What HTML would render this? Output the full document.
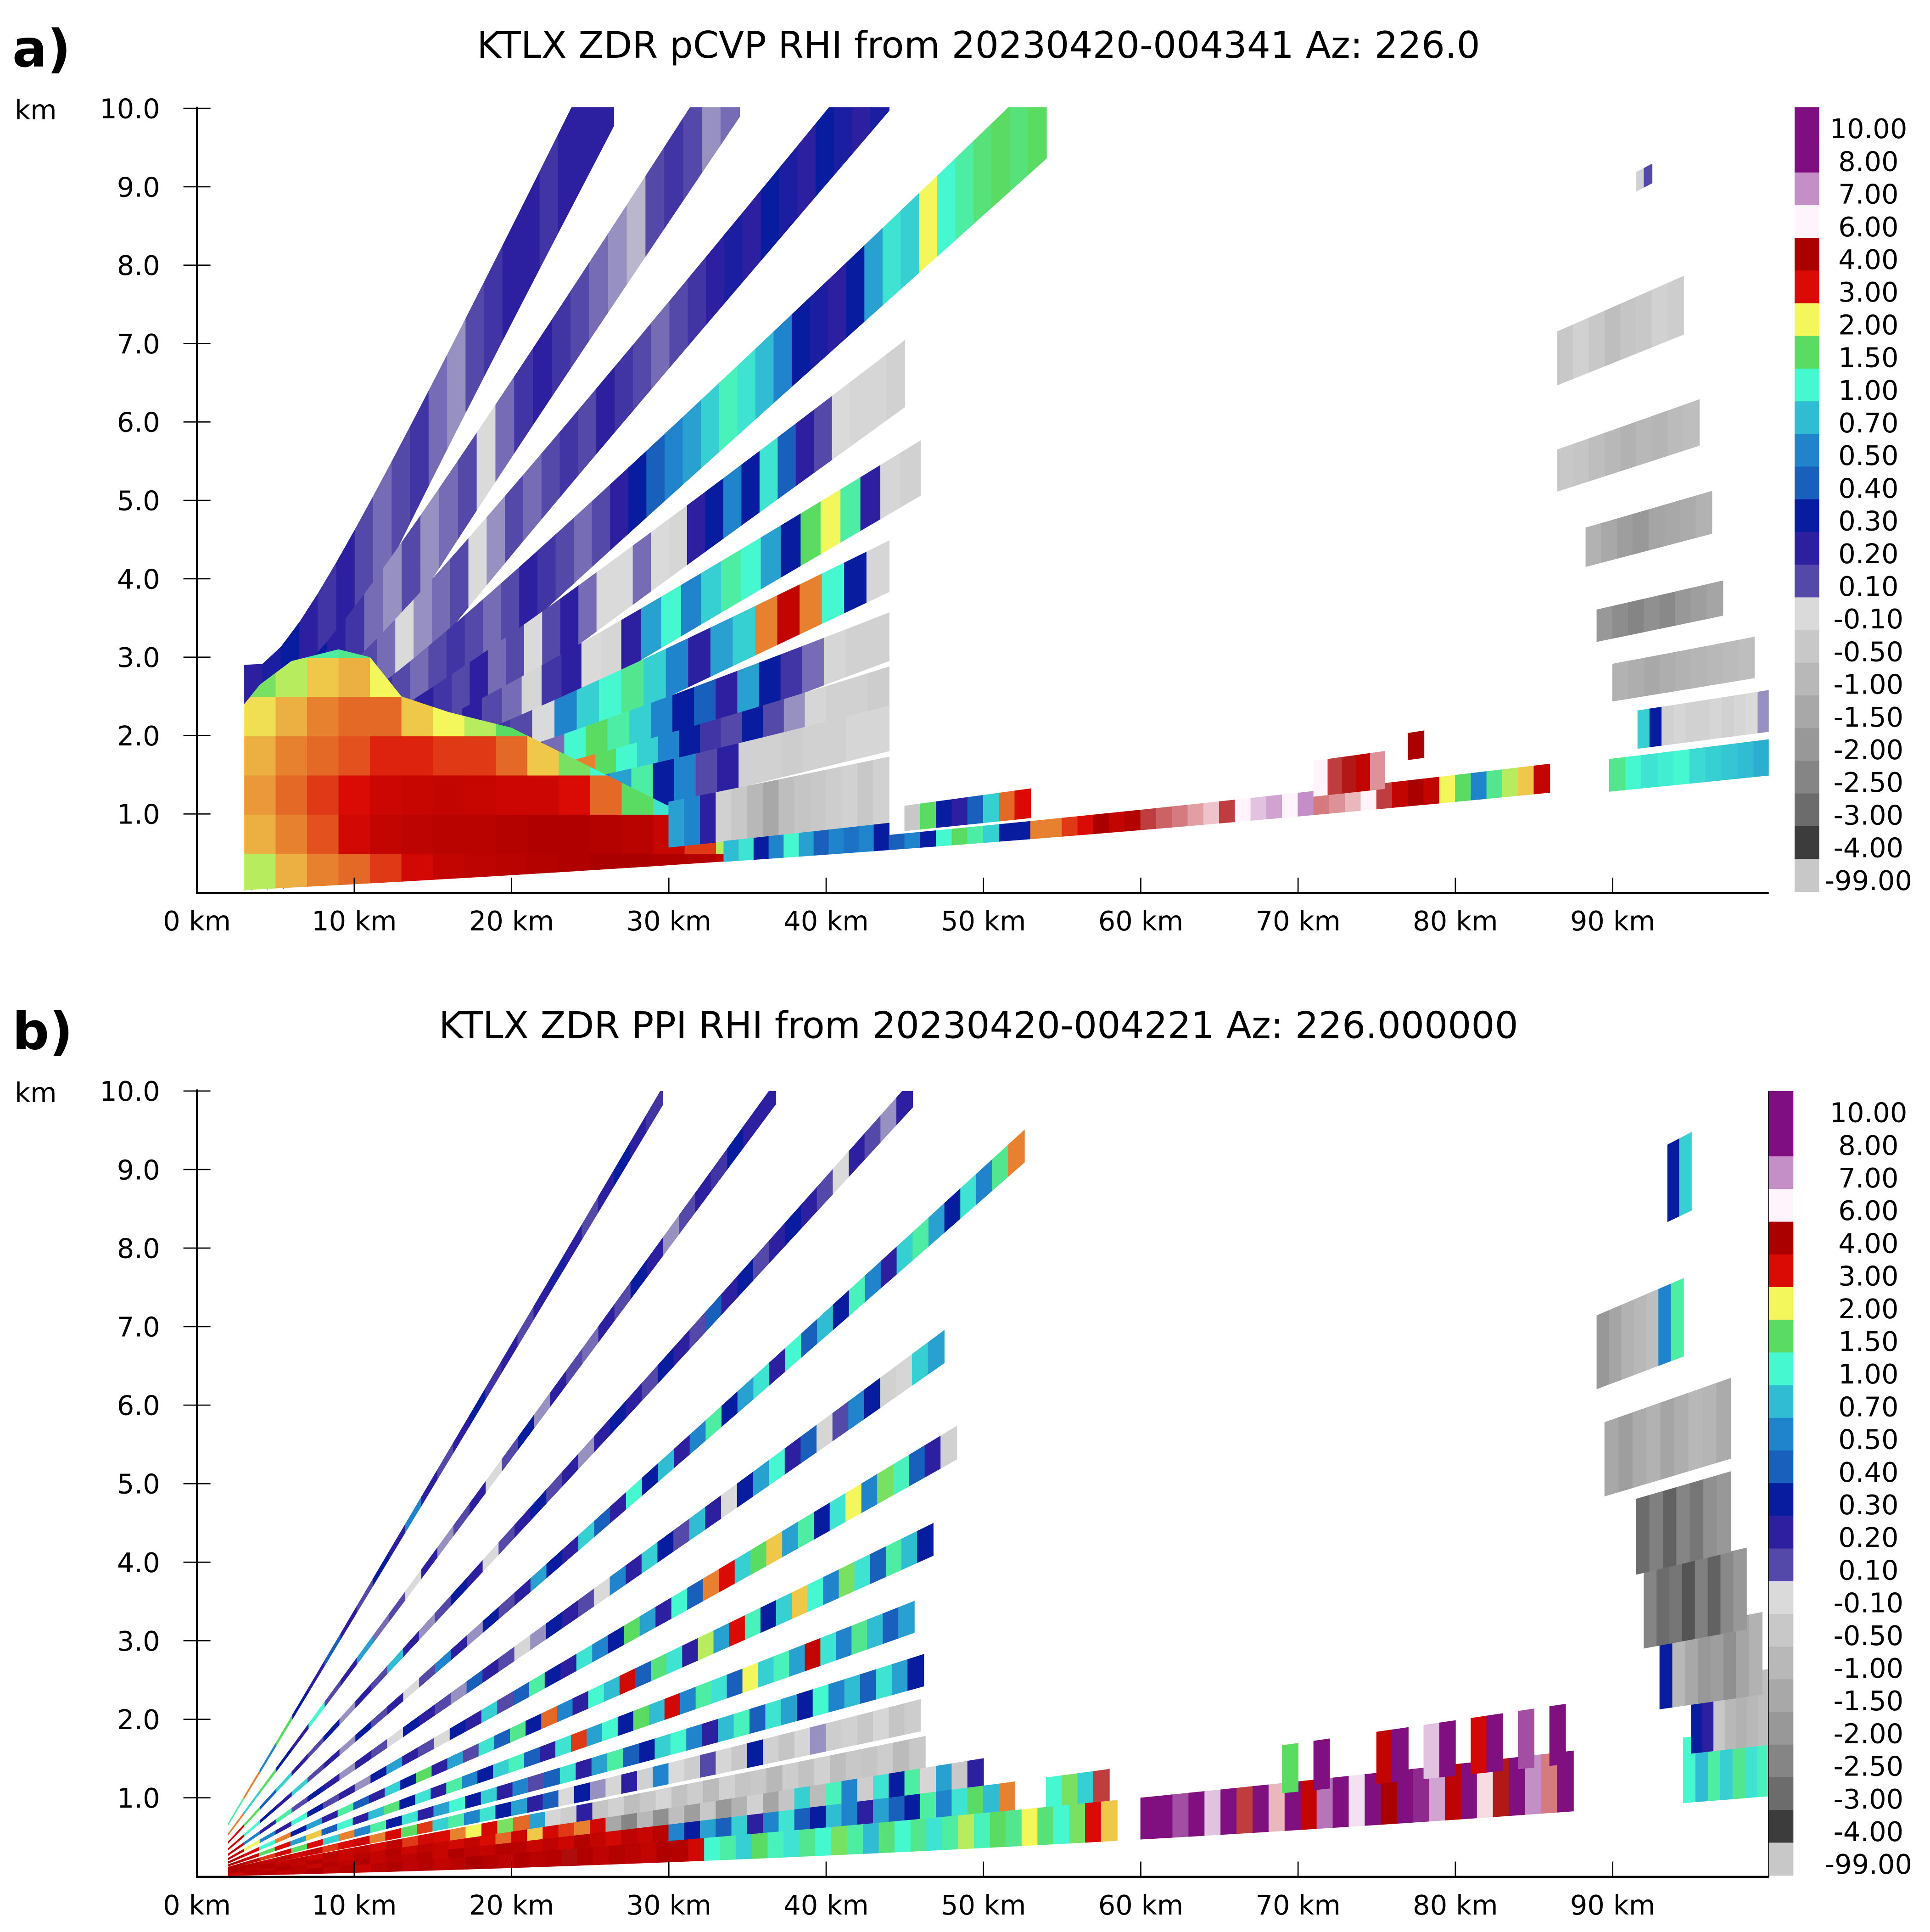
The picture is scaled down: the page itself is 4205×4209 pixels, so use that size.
<!DOCTYPE html>
<html><head><meta charset="utf-8"><title>KTLX ZDR RHI</title>
<style>
html,body{margin:0;padding:0;background:#fff;}
svg{display:block;font-family:"DejaVu Sans","Liberation Sans",sans-serif;}
.t{font-size:22px;fill:#000;}
.ttl{font-size:30px;fill:#000;}
.pl{font-size:42px;font-weight:bold;fill:#000;}
</style></head>
<body>
<svg id="chart" xmlns="http://www.w3.org/2000/svg" viewBox="0 0 1568 1569" width="4205" height="4209" preserveAspectRatio="none">
<defs>
<clipPath id="clipA"><rect x="160" y="87" width="1277" height="638"/></clipPath>
<clipPath id="clipB"><rect x="160" y="886" width="1277" height="638"/></clipPath>
<clipPath id="nearClip"><polygon id="nearPoly" points=""/></clipPath>
</defs>
<rect x="0" y="0" width="1568" height="1569" fill="#fff"/>
<text class="pl" x="10" y="54">a)</text>
<text class="ttl" x="795" y="47" text-anchor="middle">KTLX ZDR pCVP RHI from 20230420-004341 Az: 226.0</text>
<text class="t" x="29" y="97" text-anchor="middle">km</text>
<text class="pl" x="10" y="852">b)</text>
<text class="ttl" x="795" y="843" text-anchor="middle">KTLX ZDR PPI RHI from 20230420-004221 Az: 226.000000</text>
<text class="t" x="29" y="895" text-anchor="middle">km</text>
<g id="plotA" clip-path="url(#clipA)">
  <g id="beamsAUpper"></g>
  <g id="nearA" clip-path="url(#nearClip)"></g>
  <g id="beamsA"></g>
</g>
<g id="plotB" clip-path="url(#clipB)"></g>
<g id="axes"></g>
<g id="cbars"></g>
</svg>
<script>
// ---------- data ----------
const xTicks = [0,10,20,30,40,50,60,70,80,90];
const yTicks = [1,2,3,4,5,6,7,8,9,10];
const cbLabels = ["10.00","8.00","7.00","6.00","4.00","3.00","2.00","1.50","1.00","0.70","0.50","0.40","0.30","0.20","0.10","-0.10","-0.50","-1.00","-1.50","-2.00","-2.50","-3.00","-4.00","-99.00"];
const cbColors = ["#7f0f80","#7f0f80","#c48fc6","#fff4fb","#ab0000","#da0a04","#f4f75c","#5adc62","#45f8d0","#30bcd3","#2084cc","#1860bc","#081ca0","#2d20a0","#5448a8","#dadada","#c8c8c8","#b8b8b8","#a8a8a8","#989898","#858585","#6c6c6c","#3c3c3c","#c8c8c8"];
const anchorV = [-4,-3,-2.5,-2,-1.5,-1,-0.5,-0.1,0.1,0.2,0.3,0.4,0.5,0.7,1.0,1.5,2.0,3.0,4.0,6.0,7.0,8.0];
const anchorC = ["#3c3c3c","#6c6c6c","#858585","#989898","#a8a8a8","#b8b8b8","#c8c8c8","#dadada","#5448a8","#2d20a0","#081ca0","#1860bc","#2084cc","#30bcd3","#45f8d0","#5adc62","#f4f75c","#da0a04","#ab0000","#fff4fb","#c48fc6","#800f80"];

// panel a near-field grid (columns start at 3 km, 2 km wide; rows 0.5 km tall from ground)
const nearR0 = 3, nearDR = 2, nearDH = 0.5;
const nearGrid = [
 [1.8,2.3,2.4,2.3,2.1,1.6,0.8],
 [2.3,2.5,2.6,2.5,2.3,1.8,0.9,0.5],
 [2.5,2.7,2.8,2.6,2.5,2.2,1.2,0.6],
 [2.6,3.2,3.0,2.7,2.6,2.3,1.3,0.6],
 [2.8,3.5,3.3,2.9,2.6,2.0,0.9,0.4],
 [3.2,3.6,3.4,2.9,2.2,1.2,0.5,0.3],
 [3.5,3.7,3.5,2.8,2.0,1.1,0.4,0.3],
 [3.6,3.7,3.4,2.8,1.8,0.9,0.3,0.2],
 [3.7,3.8,3.3,2.6,1.5,0.7,0.3,0.2],
 [3.8,3.9,3.3,2.2,1.2,0.6,0.2],
 [3.9,3.9,3.0,1.6,0.8,0.3,0.2],
 [4.0,3.8,2.6,1.0,0.5,0.3,0.2],
 [4.0,3.7,1.5,0.7,0.3,0.2],
 [3.9,3.4,0.9,0.5,0.2,0.1],
 [3.8,2.8,0.6,0.3,0.2],
 [3.5,1.8,0.5,0.3,0.2],
 [1.0,0.4,0.3,0.2]
];
const nearMaskR = [3,3,4,6,9,11,13,16,20,24,28,32,35];
const nearMaskH = [0.03,2.4,2.65,2.95,3.1,3.0,2.5,2.3,2.1,1.7,1.3,0.9,0.45];

// panel a beams
const aB1 = [0.2,0.25,0.3,0.2,0.15,0.2,0.1,0.05,0.1,0.15,0.05,0,0.1,0.15,0.2,0.2,0.15,0.2,0.2,0.2];
const aB2 = [0.3,0.35,0.25,0.3,0.2,0.15,0.05,0,0.1,0.0,0.05,0.1,-0.1,0.05,0.15,0.2,0.15,0.1,0.05,0.0,-0.05,0.1,0.15,0.1,0.0,0.05];
const aB3 = [0.2,0.25,0.2,0.15,0.2,0.1,0.05,-0.1,0.0,0.05,0.1,-0.1,0.0,0.1,0.05,0.1,0.15,0.1,0.2,0.15,0.1,0.05,0.1,0.15,0.2,0.25,0.2,0.3,0.25,0.2,0.3,0.25,0.2,0.25];
const aB4 = [0.2,0.25,0.2,0.3,0.2,0.15,0.1,0.05,0.1,0.15,0.1,0.05,0.1,0.2,0.15,0.1,0.05,0.1,0.2,0.3,0.4,0.5,0.6,0.8,1.1,0.9,0.7,0.5,0.3,0.25,0.2,0.3,0.6,0.9,0.8,2.0,1.0,1.2,1.4,1.5,1.4,1.5];
const aB5 = [0.25,0.2,0.3,0.2,0.25,0.15,0.2,0.15,0.1,0.2,0.05,0.1,-0.1,0.1,0.2,0.05,-0.1,-0.1,0.05,-0.1,-0.2,0.2,0.3,0.5,0.3,0.9,0.4,0.2,0.1,-0.1,-0.2,-0.2,-0.3];
const aB6 = [0.25,0.2,0.3,0.2,0.25,0.15,0.1,0.2,0.1,0.05,-0.2,0.15,0.2,-0.1,-0.2,0.2,0.6,1.0,0.5,0.8,1.2,1.0,0.6,0.3,1.5,2.0,1.2,0.2,-0.2,-0.3];
const aB7 = [0.3,0.2,0.25,0.2,0.15,0.1,0.15,0.1,-0.1,0.5,0.8,1.0,1.3,0.8,0.5,0.2,0.6,0.8,2.5,3.5,2.5,1.0,0.3,-0.2];
const aB8 = [0.3,0.2,0.25,0.2,0.15,0.15,0.2,0.1,0.05,1.0,1.5,1.2,0.8,0.5,0.3,0.4,0.2,0.6,0.3,0.15,0.05,-0.2,-0.3,-0.3];
const aB9 = [0.3,0.25,0.2,0.2,0.1,0.2,0.15,0.1,0.05,2.5,1.5,1.0,0.8,0.5,0.3,0.15,0.1,0.3,0.1,0.0,-0.2,-0.3,-0.3,-0.4];
const aB10 = [0.3,0.25,0.2,0.15,0.15,0.1,0.05,0.3,0.5,0.6,1.2,0.3,0.5,0.1,0.2,-0.3,-0.3,-0.4,-0.3,-0.3,-0.2,-0.2];
const aL1b = [0.6,0.5,0.2,-0.3,-0.5,-1.0,-1.5,-0.8,-0.6,-0.5,-0.4,-0.3,-0.5,-0.3];
const aL1a = [0.7,0.9,0.3,0.5,1.0,0.6,0.4,0.5,0.45,0.5,0.3];
const aL2 = [0.4,0.5,0.3,1.0,1.5,1.2,0.8,0.3,0.3,2.5,2.5,2.8,3.0,4.0,3.5,3.8,4.5,4.8,5.0,5.3,5.6,4.5,6.0,6.5,6.8,6.0,7.0,5.0,5.2,5.5,6.0,4.5,3.5,4.0,3.5,2.0,1.5,0.5,1.3,1.8,2.2,3.5];
const aL3 = [-0.5,1.5,0.3,0.2,0.4,0.8,2.6,3.0];
const aS1 = [6.0,4.5,4.2,3.5,5.2];
const aS2 = [4.0];
const aF1 = [-0.5,-0.3,-0.5,-0.8,-0.6,-0.5,-0.3,-0.4];
const aF0 = [-0.3,0.1];
const aF2 = [-0.5,-0.6,-0.8,-1.0,-1.2,-1.0,-1.1,-0.9,-0.8];
const aF3 = [-1.2,-1.5,-1.8,-2.0,-1.6,-1.5,-1.4,-1.2];
const aF4 = [-2.0,-2.3,-2.5,-2.2,-2.4,-2.0,-1.8,-1.6];
const aF5 = [-1.2,-1.3,-1.5,-1.3,-1.2,-1.1,-1.0,-0.9,-0.8];
const aF6 = [0.8,0.3,-0.3,-0.2,-0.3,-0.3,-0.2,-0.3,-0.2,-0.1,0.0];
const aF7 = [1.3,1.0,0.9,0.95,1.0,0.85,0.8,0.75,0.7,0.65];
const aUpperCount = 10;
const aPadK = 5;
const aElevLo = [22.0,16.8,13.1,9.9,7.9,6.3,5.0,3.85,2.9,2.35,1.0,0.56,0.56,0.85,0.75,1.0,4.0,5.3,3.1,2.4,1.76,1.25,0.84,0.52];
const aElevHi = [24.2,18.2,14.1,10.9,8.7,6.9,5.55,4.35,3.45,2.8,2.1,1.0,0.8,1.25,1.11,1.25,4.45,5.45,3.45,2.72,2.02,1.55,1.14,0.78];
const aRangeStart = [3,3.5,4.5,5.5,7,8,10,11,12,14,30,33.5,44,45,71,77,86.5,91.5,86.5,88.3,89,90,91.6,89.8];
const aRangeEnd = [26.5,34.5,44,54,45,46,44,44,44,44,44,44,86,53,75.5,78,94.5,92.5,95.5,96.3,97,99,100,100];
const aValues = [aB1,aB2,aB3,aB4,aB5,aB6,aB7,aB8,aB9,aB10,aL1b,aL1a,aL2,aL3,aS1,aS2,aF1,aF0,aF2,aF3,aF4,aF5,aF6,aF7];

// panel b beams (PPI sweeps)
const b195 = [1.2,2.5,0.5,1.5,0.3,0.2,0.4,0.2,0.1,0.3,0.2,0.5,0.2,0.1,0.2,0.3,0.15,0.2,0.1,0.2,0.25,0.2,0.1,0.2,0.3,0.2,0.15];
const b156 = [2.5,0.8,1.5,0.3,0.2,1.0,0.1,0.2,0.6,0.05,0.1,-0.1,0.2,0.0,0.1,0.2,-0.1,0.1,0.3,0.0,0.2,0.1,0.05,0.2,0.1,0.3,0.2,0.0,0.1,0.2,0.15,0.3,0.2,0.2];
const b125 = [3.0,1.5,0.4,0.8,0.2,0.1,0.3,0.0,0.2,0.1,0.7,0.2,0.0,0.1,0.3,0.2,-0.1,0.1,0.2,0.3,0.1,0.2,0.0,0.2,0.3,0.2,0.1,0.3,0.2,0.1,0.4,0.2,0.3,0.1,0.2,0.3,0.2,0.1,-0.1,0.2,0.1,0.0,0.2];
const b100 = [3.2,1.0,0.3,0.2,0.8,0.1,0.2,0.0,0.3,0.1,0.2,-0.1,0.1,0.5,0.2,0.0,0.3,0.1,0.2,0.6,0.3,0.2,0.8,0.4,0.2,1.0,0.3,0.7,0.2,0.5,1.2,0.3,0.6,0.9,0.2,1.0,0.4,0.7,0.3,1.1,0.5,0.2,0.8,1.2,0.6,0.3,0.9,0.5,1.3,2.5];
const b080 = [3.5,0.5,0.2,1.2,0.1,0.3,0.2,0.0,0.2,0.1,-0.1,0.3,0.2,0.1,0.0,0.4,0.2,0.1,-0.2,0.0,0.3,0.2,0.1,-0.1,0.5,0.2,0.8,0.3,0.1,0.7,0.2,-0.1,0.3,0.6,1.0,0.2,0.4,-0.2,0.1,0.5,0.3,-0.3,-0.2,0.8,0.6];
const b064 = [3.5,2.0,0.5,0.2,1.0,0.3,0.1,0.2,0.0,0.3,0.6,0.2,0.1,-0.1,0.3,0.2,0.8,0.1,0.4,1.2,0.3,0.2,0.9,0.5,0.3,1.5,0.6,0.2,1.0,0.4,2.5,3.0,0.8,1.5,2.2,0.6,1.2,0.3,0.9,2.0,0.5,1.6,1.1,0.4,0.2,-0.3];
const b051 = [3.8,3.0,1.0,2.5,0.3,0.6,0.2,1.2,0.4,0.2,0.8,0.3,1.5,0.2,0.6,0.1,0.9,0.4,1.3,0.3,2.6,0.5,0.2,1.0,0.7,3.2,0.4,1.4,0.9,0.2,1.8,0.6,3.0,1.1,0.3,0.8,2.2,1.0,0.5,1.6,0.9,0.4,1.2,0.7,0.3];
const b040 = [3.8,3.5,1.5,3.0,0.6,2.2,0.4,1.0,0.2,0.7,1.4,0.3,0.9,0.2,1.2,0.5,0.3,0.8,1.1,0.4,0.2,0.9,2.8,0.6,1.0,0.3,1.5,0.7,3.2,0.5,1.2,0.9,0.4,2.0,0.8,1.1,0.6,3.5,0.9,0.5,1.3,0.7,0.4,0.6];
const b031 = [3.9,3.6,2.8,3.3,1.5,3.0,0.8,2.5,0.5,1.2,0.3,0.9,0.2,0.6,1.0,0.3,0.8,0.2,0.5,0.1,0.4,0.9,0.2,0.6,1.2,0.4,0.3,0.8,1.0,0.5,0.2,0.7,1.1,0.4,0.9,0.6,0.3,1.0,0.5,0.7,0.4,0.9,0.6,0.3];
const b024 = [3.9,3.8,3.5,3.6,3.2,3.4,2.8,3.0,3.3,2.5,3.1,1.5,2.8,0.8,1.2,0.5,0.9,0.3,0.6,0.2,0.4,-0.1,0.3,0.0,-0.2,0.2,-0.3,0.5,-0.1,-0.4,0.1,-0.2,-0.5,0.3,-0.3,-0.6,-0.2,0.0,-0.4,-0.3,-0.5,-0.2,-0.6,-0.4];
const b018 = [3.9,3.7,3.8,3.5,3.6,3.3,3.7,3.4,3.5,3.1,3.6,2.8,3.2,3.0,2.5,2.0,3.1,1.6,2.6,0.6,-0.2,-0.4,0.2,-0.6,-0.3,-0.8,-0.5,-0.2,-0.7,-0.4,-0.9,-0.3,-0.6,-0.5,-1.0,-0.4,-0.7,-0.3,-0.8,-0.5,-0.6,-0.4,-0.9,-0.5];
const b013 = [3.9,3.6,3.8,3.7,3.5,3.8,3.6,3.4,3.7,3.5,3.8,3.3,3.6,3.4,3.2,3.5,3.0,2.6,3.3,2.2,3.1,2.8,2.5,3.2,-1.5,-2.5,-1.0,-2.2,-0.8,-1.8,-0.5,-2.0,-1.2,-0.3,-1.6,-0.6,0.8,-0.9,1.1,0.5,-0.4,0.9,0.3,1.2,-0.2,0.6,-0.5,0.2];
const b009 = [3.6,3.8,3.5,3.9,3.7,3.4,3.8,3.6,3.9,3.5,3.7,3.6,3.8,3.4,3.9,3.6,3.5,3.8,3.7,3.4,3.6,3.3,3.8,3.5,3.2,3.6,3.4,3.7,0.5,0.3,0.6,0.4,0.8,0.2,0.5,0.9,0.4,0.3,0.7,0.5,0.2,0.6,0.4,0.3,1.2,0.5,0.9,1.5,0.7,2.5,null,null,1.0,1.6,0.8,4.5];
const b005 = [3.2,3.6,3.8,3.5,3.7,3.9,3.6,3.8,3.4,3.7,3.9,3.6,3.8,3.5,3.7,4.0,3.8,3.6,3.9,3.7,3.8,4.1,3.9,3.6,3.8,3.7,3.5,3.9,3.8,3.2,1.0,1.2,0.8,1.5,1.1,0.9,1.3,1.0,1.6,1.2,0.7,1.4,1.0,1.3,0.9,1.2,1.8,1.1,1.5,1.3,2.0,1.4,1.0,1.6,3.0,2.2];
const bFar005 = [8.5,9,7.5,8.8,6.5,9.2,4.5,8.0,5.5,8.6,3.5,7.2,9.0,6.2,8.3,4.0,9.1,7.8,6.8,3.6,8.9,5.8,4.2,9.3,7.0,5.0,8.0];
const bFar009 = [null,null,null,1.5,null,9,null,null,null,3.5,8.8,null,6.5,9.0,null,3.2,8.5,null,7.5,null,9.2];
const bEdge005 = [1.0,0.7,1.2,0.8,1.3,0.9,1.1];
const bEdge009 = [0.3,0.2,-0.5,-1.0,-1.2,-1.0,-0.8];
const bEdge013 = [0.3,-1.0,-1.5,-2.0,-1.8,-2.2,-1.6,-1.2];
const bEdge018 = [-2.5,-3.0,-2.8,-3.5,-2.6,-3.2,-2.4,-2.0];
const bEdge024 = [-3.0,-2.6,-3.2,-2.5,-2.8,-2.2,-2.0];
const bEdge031 = [-1.5,-1.8,-1.4,-1.2,-1.6,-1.3,-1.0,-1.1,-1.4];
const bEdge040 = [-2.0,-1.6,-1.2,-1.0,-0.8,0.5,1.2];
const bEdge051 = [0.3,0.8];
const bElev = [19.5,15.6,12.5,10.0,8.0,6.4,5.1,4.0,3.1,2.4,1.8,1.3,0.9,0.5,0.5,0.9,0.5,0.9,1.3,1.8,2.4,3.1,4.0,5.1];
const bWidth = [0.45,0.45,0.45,0.45,0.5,0.5,0.5,0.5,0.5,0.5,0.5,0.5,0.5,0.5,0.5,0.5,0.5,0.55,0.6,0.6,0.6,0.6,0.6,0.6];
const bRangeStart = [2,2,2,2,2,2,2,2,2,2,2,2,2,2,60,66,94.5,95,93,92,91.5,89.5,89,93.5];
const bRangeEnd = [29.6,36.8,45.5,52.6,47.5,48.3,46.8,45.6,46.2,46,46.3,50,58,58.5,87.5,87,100,100,99.5,98.5,97.5,97.5,94.5,95];
const bValues = [b195,b156,b125,b100,b080,b064,b051,b040,b031,b024,b018,b013,b009,b005,bFar005,bFar009,bEdge005,bEdge009,bEdge013,bEdge018,bEdge024,bEdge031,bEdge040,bEdge051];

// ---------- rendering ----------
const NS = 'http://www.w3.org/2000/svg';
const panelA = {ox:160, kx:12.78, oy:724.7, ky:63.67};
const panelB = {ox:160, kx:12.78, oy:1523.8, ky:63.78};
const KE = 16990;
function hgt(r, e){ return r*Math.sin(e*Math.PI/180) + r*r/KE; }
function X(p, r){ return p.ox + r*p.kx; }
function Y(p, h){ return p.oy - h*p.ky; }
function hex2rgb(h){ return [parseInt(h.substr(1,2),16),parseInt(h.substr(3,2),16),parseInt(h.substr(5,2),16)]; }
function colorOf(v){
  if (v <= anchorV[0]) return anchorC[0];
  if (v >= anchorV[anchorV.length-1]) return anchorC[anchorC.length-1];
  for (let i=0;i<anchorV.length-1;i++){
    if (v>=anchorV[i] && v<=anchorV[i+1]){
      const t=(v-anchorV[i])/(anchorV[i+1]-anchorV[i]);
      const a=hex2rgb(anchorC[i]), b=hex2rgb(anchorC[i+1]);
      return 'rgb('+Math.round(a[0]+(b[0]-a[0])*t)+','+Math.round(a[1]+(b[1]-a[1])*t)+','+Math.round(a[2]+(b[2]-a[2])*t)+')';
    }
  }
  return '#fff';
}
function el(tag, parent){ const e=document.createElementNS(NS, tag); parent.appendChild(e); return e; }

function drawBeam(g, p, eLo, eHi, r0, r1, vals, nm, padK){
  const dr=(r1-r0)/vals.length;
  const lo=function(r){
    if (!padK) return hgt(r,eLo);
    let h=hgt(r,eLo)-padK/r; const m=hgt(r,0.56); return h<m?m:h;
  };
  const hi=function(r){ return hgt(r,eHi)+(padK?padK/r:0); };
  for (let i=0;i<vals.length;i++){
    if (vals[i]===null) continue;
    const ra=r0+i*dr, rb=ra+dr;
    const pts=[[X(p,ra),Y(p,lo(ra))],[X(p,ra),Y(p,hi(ra))],[X(p,rb),Y(p,hi(rb))],[X(p,rb),Y(p,lo(rb))]];
    const poly=el('polygon', g);
    poly.setAttribute('points', pts.map(q=>q[0].toFixed(2)+','+q[1].toFixed(2)).join(' '));
    const c=colorOf(vals[i]);
    poly.setAttribute('fill', c);
    poly.setAttribute('stroke', c);
    poly.setAttribute('stroke-width', '0.6');
    
    
  }
}

// panel a beams
(function(){
  const gu=document.getElementById('beamsAUpper');
  const gl=document.getElementById('beamsA');
  for (let i=0;i<aValues.length;i++){
    const upper = i < aUpperCount;
    const sub=el('g', upper?gu:gl);
    
    
    drawBeam(sub, panelA, aElevLo[i], aElevHi[i], aRangeStart[i], aRangeEnd[i], aValues[i], 'panel-a-beam', upper?aPadK:0);
  }
})();

// near-field grid
(function(){
  const pts=[];
  for (let i=0;i<nearMaskR.length;i++) pts.push(X(panelA,nearMaskR[i]).toFixed(2)+','+Y(panelA,nearMaskH[i]).toFixed(2));
  for (let r=35;r>=3;r-=0.5) pts.push(X(panelA,r).toFixed(2)+','+Y(panelA,hgt(r,0.56)).toFixed(2));
  document.getElementById('nearPoly').setAttribute('points', pts.join(' '));
  const g=document.getElementById('nearA');
  for (let c=0;c<nearGrid.length;c++){
    for (let k=0;k<nearGrid[c].length;k++){
      const r=nearR0+c*nearDR;
      const rc=el('rect', g);
      rc.setAttribute('x', X(panelA,r).toFixed(2));
      rc.setAttribute('y', Y(panelA,(k+1)*nearDH).toFixed(2));
      rc.setAttribute('width', (nearDR*panelA.kx+0.6).toFixed(2));
      rc.setAttribute('height', (nearDH*panelA.ky+0.6).toFixed(2));
      rc.setAttribute('fill', colorOf(nearGrid[c][k]));
      
      
    }
  }
})();

// panel b beams
(function(){
  const g=document.getElementById('plotB');
  for (let i=0;i<bValues.length;i++){
    const sub=el('g', g);
    
    
    drawBeam(sub, panelB, bElev[i]-bWidth[i]/2, bElev[i]+bWidth[i]/2, bRangeStart[i], bRangeEnd[i], bValues[i], 'panel-b-sweep', 0);
  }
})();

// axes
(function(){
  const g=document.getElementById('axes');
  [[panelA,'a'],[panelB,'b']].forEach(function(pp){
    const p=pp[0], n=pp[1];
    const top=Y(p,10.02);
    const l=el('line', g);
    l.setAttribute('x1',160); l.setAttribute('x2',160); l.setAttribute('y1',top); l.setAttribute('y2',p.oy+1);
    l.setAttribute('stroke','#000'); l.setAttribute('stroke-width','1.6');
    
    
    const b=el('line', g);
    b.setAttribute('x1',159.2); b.setAttribute('x2',1437); b.setAttribute('y1',p.oy+0.5); b.setAttribute('y2',p.oy+0.5);
    b.setAttribute('stroke','#000'); b.setAttribute('stroke-width','1.8');
    
    
    xTicks.forEach(function(t){
      const tk=el('line', g);
      tk.setAttribute('x1',X(p,t)); tk.setAttribute('x2',X(p,t)); tk.setAttribute('y1',p.oy-12); tk.setAttribute('y2',p.oy);
      tk.setAttribute('stroke','#000'); tk.setAttribute('stroke-width','1');
      
      
      const tx=el('text', g);
      tx.setAttribute('x',X(p,t)); tx.setAttribute('y',p.oy+31);
      tx.setAttribute('text-anchor','middle'); tx.setAttribute('class','t');
      tx.textContent=t+' km';
      
      
    });
    yTicks.forEach(function(t){
      const tk=el('line', g);
      tk.setAttribute('x1',149); tk.setAttribute('x2',171); tk.setAttribute('y1',Y(p,t)); tk.setAttribute('y2',Y(p,t));
      tk.setAttribute('stroke','#000'); tk.setAttribute('stroke-width','1');
      
      
      const tx=el('text', g);
      tx.setAttribute('x',130); tx.setAttribute('y',Y(p,t)+8);
      tx.setAttribute('text-anchor','end'); tx.setAttribute('class','t');
      tx.textContent=t.toFixed(1);
      
      
    });
  });
  const rb=el('line', g);
  rb.setAttribute('x1',1437); rb.setAttribute('x2',1437); rb.setAttribute('y1',886); rb.setAttribute('y2',1524);
  rb.setAttribute('stroke','#000'); rb.setAttribute('stroke-width','1.2');
  
  
})();

// colorbars
(function(){
  const g=document.getElementById('cbars');
  [[1458,87,'a'],[1437,886,'b']].forEach(function(cb){
    const x0=cb[0], y0=cb[1], n=cb[2];
    const sh=637/cbColors.length;
    const grp=el('g', g);
    
    
    for (let i=0;i<cbColors.length;i++){
      const r=el('rect', grp);
      r.setAttribute('x',x0); r.setAttribute('y',(y0+i*sh).toFixed(2));
      r.setAttribute('width',20); r.setAttribute('height',(sh+0.3).toFixed(2));
      r.setAttribute('fill',cbColors[i]);
      
      
      const t=el('text', grp);
      t.setAttribute('x',1518); t.setAttribute('y',(y0+i*sh+sh/2+12).toFixed(2));
      t.setAttribute('text-anchor','middle'); t.setAttribute('class','t');
      t.textContent=cbLabels[i];
      
      
    }
  });
})();
</script>
</body></html>
